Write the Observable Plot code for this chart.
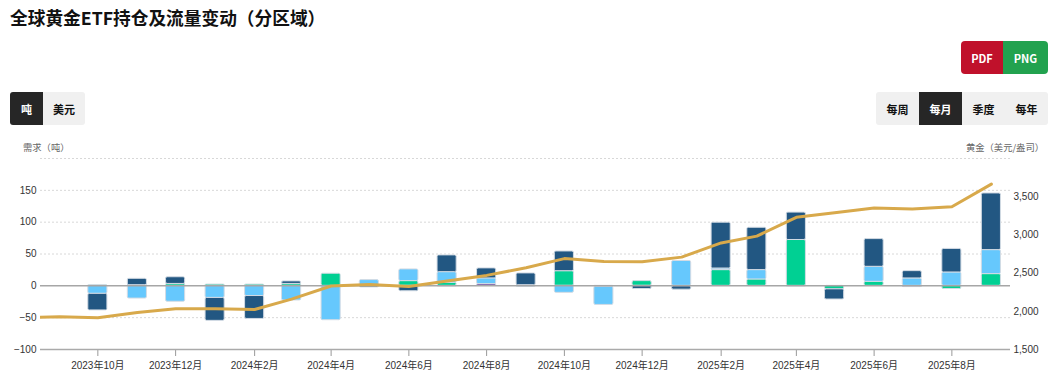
<!DOCTYPE html>
<html><head><meta charset="utf-8">
<script src="https://cdn.jsdelivr.net/npm/d3@7"></script>
<script src="https://cdn.jsdelivr.net/npm/@observablehq/plot@0.6"></script>
<style>
body{margin:0;width:1054px;height:379px;overflow:hidden;background:#fff;font-family:"Noto Sans CJK SC","Noto Sans",sans-serif;position:relative}
#title{position:absolute;left:10px;top:4px;font-size:17.7px;font-weight:bold;color:#111;line-height:26px;white-space:nowrap}
.btn{position:absolute;display:flex;align-items:center;justify-content:center;font-size:11px;font-weight:bold;box-sizing:border-box;color:#111;background:#f0f0f0}
.dark{background:#262626;color:#fff}
.axt{position:absolute;font-size:9.3px;color:#666;line-height:12px;white-space:nowrap}
#chart{position:absolute;left:0;top:135px}
</style></head>
<body>
<div id="title">全球黄金ETF持仓及流量变动（分区域）</div>
<div class="btn" style="left:961px;top:41px;width:42px;height:33px;background:#c0112b;color:#fff;border-radius:4px 0 0 4px">PDF</div>
<div class="btn" style="left:1003px;top:41px;width:45px;height:33px;background:#22a24f;color:#fff;border-radius:0 4px 4px 0">PNG</div>
<div class="btn dark" style="left:10px;top:92px;width:33px;height:33px;border-radius:3px 0 0 3px">吨</div>
<div class="btn" style="left:43px;top:92px;width:42px;height:33px;border-radius:0 3px 3px 0">美元</div>
<div class="btn" style="left:876px;top:92px;width:43px;height:33px;border-radius:3px 0 0 3px">每周</div>
<div class="btn dark" style="left:919px;top:92px;width:43px;height:33px">每月</div>
<div class="btn" style="left:962px;top:92px;width:43px;height:33px">季度</div>
<div class="btn" style="left:1005px;top:92px;width:43px;height:33px;border-radius:0 3px 3px 0">每年</div>
<div class="axt" style="left:23px;top:141px">需求（吨）</div>
<div class="axt" style="right:10px;top:141px">黄金（美元/盎司）</div>
<div id="chart"></div>
<script>
// Months with ETF flows
const months = ["2023-10","2023-11","2023-12","2024-01","2024-02","2024-03","2024-04","2024-05","2024-06","2024-07","2024-08","2024-09","2024-10","2024-11","2024-12","2025-01","2025-02","2025-03","2025-04","2025-05","2025-06","2025-07","2025-08","2025-09"];
// Regional flows (tonnes)
const northAmerica = [-26,10,10.5,-36,-36,4,0,-2.5,-8.5,26.3,15.7,18.5,31,0,-5,-5.5,72,66.5,43,-16,43.5,11.5,37,89];
const europe =       [-12.6,-20,-25,-19,-16,-23,-53,8,18.4,16.8,9,-1.5,-11,-28.5,0,39,2.5,14.7,0,0,23.6,11.6,21,37.7];
const asia =         [1,1,3,2,2,3,19,1,7.4,4.7,0,1,23,0,7.4,0,24.7,10,72,-5.5,6.3,0,-5,18.4];
const other =        [0,0,0,0,0,0,-1,0,0,-1,2.7,0,0,-1.5,0,-0.5,0,0,-1,0,0,-2,0,-0.5];
const regionNames = ["其他","亚洲","欧洲","北美"];
const regionColors = ["#6b3f98","#00d093","#66c8fd","#225782"];
// Gold price (USD/oz)
const goldMonths = ["2023-08","2023-09","2023-10","2023-11","2023-12","2024-01","2024-02","2024-03","2024-04","2024-05","2024-06","2024-07","2024-08","2024-09","2024-10","2024-11","2024-12","2025-01","2025-02","2025-03","2025-04","2025-05","2025-06","2025-07","2025-08","2025-09"];
const goldPrice = [1918,1928,1916,1985,2034,2034,2024,2160,2331,2352,2326,2398,2470,2570,2690,2651,2648,2709,2895,2984,3230,3290,3352,3340,3368,3665];
// Ticks
const tickMonths = ["2023-10","2023-12","2024-02","2024-04","2024-06","2024-08","2024-10","2024-12","2025-02","2025-04","2025-06","2025-08"];
const leftTicks = [-100,-50,0,50,100,150];
const gridValues = [-50,50,100,150,200];
const rightTicks = [1500,2000,2500,3000,3500];

const parse = d3.utcParse("%Y-%m");
const seriesValues = [other, asia, europe, northAmerica];
const flows = months.flatMap((m, i) => regionNames.map((r, k) => ({date: parse(m), region: r, value: seriesValues[k][i]})));
const goldData = goldMonths.map((m, i) => ({date: parse(m), price: goldPrice[i]}));
const toLeft = g => -100 + (g - 1500) * 300 / 2500;
const fromLeft = v => (v + 100) * 2500 / 300 + 1500;
const halfBar = 7.5 * 864e5;

const chart = Plot.plot({
  width: 1054, height: 244,
  marginTop: 23, marginBottom: 30, marginLeft: 40, marginRight: 44,
  style: {fontFamily: "'Liberation Sans', Arial, 'Noto Sans CJK SC', sans-serif", fontSize: "10px", color: "#333", background: "transparent", overflow: "visible"},
  x: {type: "utc", domain: [new Date(Date.UTC(2023, 7, 17)), new Date(Date.UTC(2025, 8, 16))]},
  y: {domain: [-100, 200]},
  color: {domain: regionNames, range: regionColors},
  marks: [
    Plot.ruleY(gridValues, {stroke: "#d8d8d8", strokeDasharray: "2,2"}),
    Plot.rectY(flows, {
      x1: d => new Date(+d.date - halfBar),
      x2: d => new Date(+d.date + halfBar),
      y: "value", fill: "region", stroke: "#d3dbe4", strokeWidth: 1, rx: 1.5
    }),
    Plot.ruleY([0], {stroke: "#a6a6a6", strokeWidth: 1.5}),
    Plot.line(goldData, {x: "date", y: d => toLeft(d.price), stroke: "#d8a94b", strokeWidth: 3, clip: true}),
    Plot.axisX(tickMonths.map(parse), {
      tickFormat: d => `${d.getUTCFullYear()}年${d.getUTCMonth() + 1}月`,
      tickSize: 7, tickPadding: 5, stroke: "#999", fill: "#333", label: null
    }),
    Plot.ruleY([-100], {stroke: "#aaa", strokeWidth: 1.5}),
    Plot.axisY(leftTicks, {tickSize: 0, tickPadding: 4, fill: "#333", label: null}),
    Plot.axisY(rightTicks.map(toLeft), {
      anchor: "right", tickSize: 0, tickPadding: 3, fill: "#333", label: null,
      tickFormat: v => d3.format(",")(Math.round(fromLeft(v)))
    })
  ]
});
document.getElementById("chart").appendChild(chart);
</script>
</body></html>
